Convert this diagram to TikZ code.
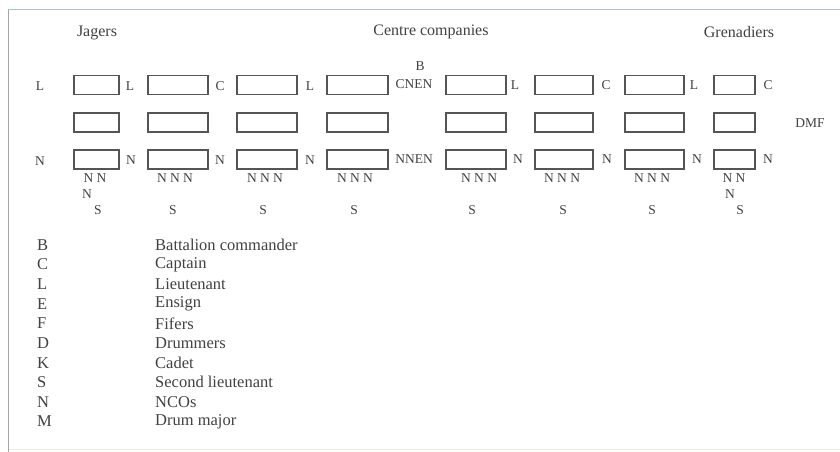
\documentclass[tikz,border=0pt]{standalone}
\usepackage{fontspec}
\setmainfont{Liberation Serif}
\definecolor{ink}{RGB}{65,65,65}
\definecolor{boxline}{RGB}{85,85,85}
\definecolor{frametop}{RGB}{165,195,205}
\definecolor{frameleft}{RGB}{165,165,165}
\definecolor{framebot}{RGB}{240,236,215}
\begin{document}
\begin{tikzpicture}[x=1pt,y=-1pt,
  cbox/.style={draw=boxline,line width=1.3pt,minimum height=19pt,inner sep=0pt},
  lab/.style={text=ink,font=\fontsize{13.5}{14}\selectfont,inner sep=0pt},
  head/.style={text=ink,font=\fontsize{16}{17}\selectfont,inner sep=0pt},
  legk/.style={text=ink,font=\fontsize{16.5}{17}\selectfont,inner sep=0pt,anchor=west},
  legv/.style={text=ink,font=\fontsize{16.5}{17}\selectfont,inner sep=0pt,anchor=west}]
\useasboundingbox (0,0) rectangle (840,452);
\fill[white] (0,0) rectangle (840,452);
% frame
\draw[frametop,line width=1pt] (8,10) -- (840,10);
\draw[frameleft,line width=1pt] (8.5,10) -- (8.5,452);
\draw[framebot,line width=1pt] (8.5,449) -- (840,449);
% headers
\node[head] (hj) at (97,33) {Jagers};
\node[head] (hc) at (431,32) {Centre companies};
\node[head] (hg) at (739,32) {Grenadiers};
% boxes
\foreach \n/\a/\b in {1/74/119,2/148/208,3/237/297,4/327/388,5/446/506,6/535/593,7/625/684,8/714/755}{
  \node[cbox,minimum width={\b-\a}] (r1b\n) at ({(\a+\b)/2},85) {};
  \node[cbox,minimum width={\b-\a}] (r2b\n) at ({(\a+\b)/2},122.5) {};
  \node[cbox,minimum width={\b-\a}] (r3b\n) at ({(\a+\b)/2},159.5) {};
}
% row 1 labels
\node[lab] (l1a) at (40,86) {L};
\node[lab] (l1b) at (130,86) {L};
\node[lab] (l1c) at (220,86) {C};
\node[lab] (l1d) at (310,86) {L};
\node[lab] (l1e) at (414,84) {CNEN};
\node[lab] (l1B) at (420,66) {B};
\node[lab] (l1f) at (515,85) {L};
\node[lab] (l1g) at (606,85) {C};
\node[lab] (l1h) at (694,85) {L};
\node[lab] (l1i) at (768,85) {C};
% row 2 label
\node[lab] (dmf) at (810,123) {DMF};
% row 3 labels
\node[lab] (l3a) at (40,161) {N};
\node[lab] (l3b) at (131,160) {N};
\node[lab] (l3c) at (220,160) {N};
\node[lab] (l3d) at (310,160) {N};
\node[lab] (l3e) at (414,159) {NNEN};
\node[lab] (l3f) at (518,159) {N};
\node[lab] (l3g) at (607,159) {N};
\node[lab] (l3h) at (697,159) {N};
\node[lab] (l3i) at (768,159) {N};
% below row 3
\node[lab] (n1a) at (95,178) {N N};
\node[lab] (n1b) at (87,194) {N};
\node[lab] (s1) at (98,210) {S};
\foreach \n/\x/\s in {2/175/173,3/265/263,4/355/354,5/479/472,6/562/563,7/652/652}{
  \node[lab] (n\n) at (\x,178) {N N N};
  \node[lab] (s\n) at (\s,210) {S};
}
\node[lab] (n8a) at (734,178) {N N};
\node[lab] (n8b) at (730,194) {N};
\node[lab] (s8) at (740,210) {S};
% legend
\foreach \i/\k/\v in {0/B/Battalion commander,1/C/Captain,2/L/Lieutenant,3/E/Ensign,4/F/Fifers,5/D/Drummers,6/K/Cadet,7/S/Second lieutenant,8/N/NCOs,9/M/Drum major}{
  \node[legk] (k\i) at (37,{245+19.6*\i}) {\k};
  \node[legv] (v\i) at (155,{245+19.6*\i}) {\v};
}
\end{tikzpicture}
\end{document}
